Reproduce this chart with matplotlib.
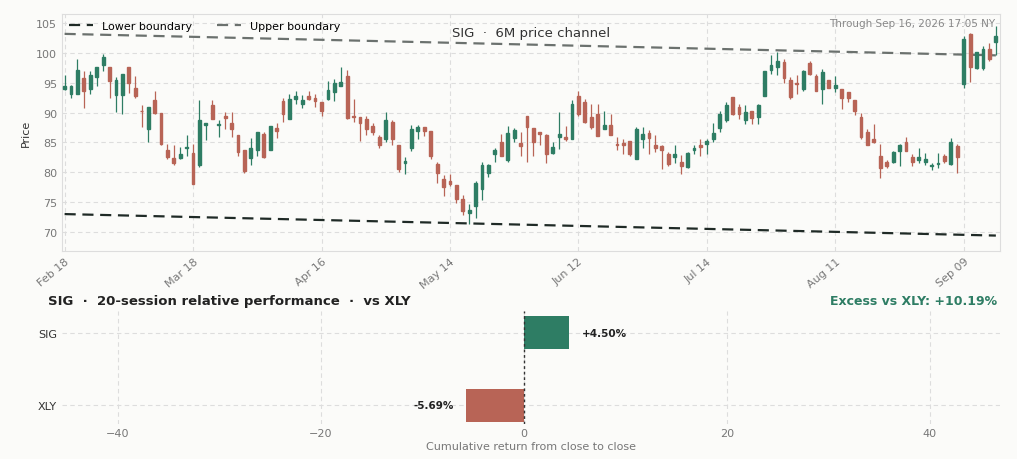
import matplotlib.pyplot as plt
from matplotlib.patches import Rectangle
import numpy as np

# OHLC, one row per session
ohlc = [
    (94.0, 96.3, 93.8, 94.5), (93.2, 94.6, 92.4, 94.4), (93.2, 99.0, 93.2, 97.2), (95.8, 96.9, 90.7, 93.6),
    (94.0, 97.0, 93.1, 96.3), (96.0, 97.7, 94.4, 97.6), (98.0, 99.8, 97.0, 99.4), (97.6, 97.6, 92.5, 95.3),
    (93.0, 96.0, 90.1, 95.5), (93.0, 96.5, 89.7, 96.5), (97.6, 97.7, 93.3, 94.9), (94.2, 96.2, 92.5, 92.8),
    (90.3, 91.3, 87.6, 90.2), (87.3, 91.0, 85.1, 91.0), (92.2, 93.7, 89.7, 89.9), (90.0, 90.0, 84.6, 84.8),
    (83.7, 84.8, 82.3, 82.6), (82.4, 84.5, 81.3, 81.5), (82.4, 84.2, 82.3, 83.1), (84.1, 86.2, 82.8, 84.3),
    (83.3, 84.8, 78.1, 78.1), (81.2, 92.1, 80.9, 88.8), (88.0, 88.3, 85.4, 88.3), (91.3, 92.1, 89.0, 89.0),
    (88.0, 88.7, 85.9, 88.1), (89.5, 90.1, 87.2, 89.1), (88.2, 90.1, 85.9, 87.2), (86.2, 86.2, 82.8, 83.4),
    (83.8, 83.8, 79.9, 80.3), (82.4, 85.8, 81.3, 84.0), (83.7, 86.8, 82.7, 86.8), (86.5, 86.7, 82.4, 82.6),
    (83.8, 87.7, 83.7, 87.7), (87.5, 88.2, 85.8, 86.9), (91.9, 92.5, 88.5, 89.7), (89.0, 93.2, 89.0, 92.3),
    (92.3, 93.7, 91.4, 92.8), (91.5, 93.0, 90.7, 92.2), (92.8, 93.6, 92.1, 92.3), (92.5, 93.2, 91.0, 91.9),
    (91.7, 91.8, 89.5, 90.3), (92.3, 95.3, 92.1, 93.8), (93.4, 95.6, 92.0, 94.9), (94.4, 97.7, 94.4, 95.1),
    (96.2, 97.2, 88.9, 89.1), (89.4, 92.3, 88.5, 89.2), (89.2, 89.2, 85.2, 88.2), (89.0, 89.5, 86.2, 87.3),
    (87.7, 88.2, 86.2, 86.8), (85.9, 86.2, 84.1, 84.6), (85.6, 90.1, 85.1, 88.7), (88.5, 88.7, 84.5, 85.6),
    (84.6, 84.6, 80.1, 80.6), (81.6, 82.6, 79.7, 81.9), (84.0, 88.0, 83.5, 87.2), (87.0, 87.9, 85.5, 87.6),
    (87.6, 87.6, 86.1, 86.9), (86.9, 86.9, 82.2, 82.7), (81.4, 81.8, 78.2, 79.9), (78.9, 79.5, 76.0, 77.5),
    (78.6, 79.7, 77.7, 78.1), (77.8, 77.8, 74.9, 75.6), (75.5, 76.2, 72.8, 73.6), (73.1, 74.7, 71.3, 73.7),
    (74.4, 78.6, 72.3, 78.2), (77.2, 81.8, 75.4, 81.2), (79.9, 81.4, 79.2, 81.3), (83.0, 84.0, 81.8, 83.7),
    (85.1, 86.5, 82.7, 82.7), (82.0, 87.7, 81.8, 86.6), (85.8, 87.4, 85.1, 87.1), (84.9, 86.8, 82.8, 84.4),
    (89.4, 89.4, 81.7, 87.6), (87.4, 87.4, 82.7, 85.0), (86.8, 86.8, 84.6, 86.4), (86.2, 86.5, 81.6, 83.0),
    (83.2, 85.1, 83.0, 84.3), (85.9, 90.1, 83.9, 86.5), (86.0, 87.8, 85.2, 85.5), (85.6, 92.1, 85.6, 91.4),
    (92.8, 93.6, 89.5, 89.7), (91.8, 92.3, 88.2, 88.5), (89.3, 91.4, 87.3, 87.6), (89.7, 91.5, 86.1, 86.1),
    (87.3, 90.3, 87.3, 87.9), (88.0, 89.7, 86.2, 86.2), (84.8, 85.9, 83.7, 84.5), (84.9, 85.6, 83.1, 84.6),
    (85.2, 85.2, 82.7, 83.1), (82.3, 87.6, 82.2, 87.3), (85.5, 87.6, 84.1, 86.5), (86.6, 87.1, 83.1, 85.8),
    (84.6, 86.3, 83.4, 84.1), (84.4, 84.5, 80.6, 83.7), (83.0, 83.4, 81.0, 81.4), (82.6, 84.5, 81.6, 83.1),
    (81.8, 82.9, 79.8, 81.0), (80.9, 83.4, 80.8, 83.2), (83.8, 84.5, 83.0, 84.1), (84.6, 85.6, 82.8, 84.2),
    (84.8, 85.6, 83.0, 85.2), (85.5, 88.3, 85.0, 86.6), (87.4, 90.2, 86.7, 89.8), (88.7, 91.7, 88.4, 91.3),
    (92.6, 92.6, 89.6, 89.8), (91.0, 91.5, 88.9, 89.8), (88.8, 91.3, 88.1, 90.1), (90.2, 90.2, 88.1, 89.1),
    (89.2, 91.5, 88.1, 91.3), (92.8, 97.0, 92.8, 97.0), (97.2, 99.7, 96.5, 97.9), (97.6, 100.2, 96.3, 98.7),
    (98.5, 99.0, 95.0, 95.8), (95.5, 95.9, 92.3, 92.6), (95.0, 96.3, 93.1, 94.8), (94.0, 97.2, 93.7, 97.0),
    (98.3, 98.7, 96.3, 96.5), (96.2, 96.5, 93.7, 93.7), (94.0, 97.3, 91.5, 96.8), (95.4, 95.4, 94.1, 94.2),
    (94.1, 96.2, 93.5, 94.6), (93.9, 93.9, 90.6, 92.4), (93.4, 93.5, 91.8, 92.4), (92.1, 92.1, 89.6, 90.3),
    (89.2, 89.9, 85.5, 85.9), (86.8, 87.2, 84.5, 84.6), (85.5, 88.1, 84.9, 85.1), (82.8, 84.7, 79.0, 80.8),
    (81.8, 82.0, 80.7, 81.1), (81.8, 83.6, 81.6, 83.4), (83.6, 84.7, 81.0, 84.6), (85.0, 86.0, 83.5, 83.6),
    (82.5, 83.1, 81.0, 81.8), (82.1, 84.0, 81.6, 82.5), (81.7, 83.2, 81.2, 82.2), (81.0, 81.6, 80.4, 81.2),
    (81.4, 83.2, 80.8, 81.6), (82.8, 83.1, 81.6, 81.9), (81.4, 85.7, 81.2, 85.1), (84.4, 84.8, 79.9, 82.5),
    (94.8, 102.9, 94.2, 102.3), (103.2, 103.4, 95.2, 97.6), (97.4, 100.2, 97.3, 100.1), (97.4, 101.1, 97.2, 100.6),
    (100.7, 101.7, 98.7, 99.0), (101.8, 104.6, 99.7, 102.8),
]
tick_pos = [0, 20, 40, 60, 80, 100, 120, 140]
tick_labels = ["Feb 18", "Mar 18", "Apr 16", "May 14", "Jun 12", "Jul 14", "Aug 11", "Sep 09"]
upper_ends = [103.2, 99.6]
lower_ends = [73.0, 69.4]

perf_names = ["SIG", "XLY"]
perf_values = [4.50, -5.69]
excess = 10.19

GREEN = "#2e7d64"
RED = "#b86456"
BG = "#fbfbf9"

fig = plt.figure(figsize=(10.17, 4.60), dpi=100, facecolor=BG)
ax1 = fig.add_axes([0.061, 0.452, 0.922, 0.515], facecolor=BG)
ax2 = fig.add_axes([0.061, 0.077, 0.922, 0.245], facecolor=BG)

n = len(ohlc)
for i, (o, h, l, c) in enumerate(ohlc):
    col = GREEN if c >= o else RED
    ax1.vlines(i, l, h, color=col, lw=0.9, zorder=3)
    lo, hi = min(o, c), max(o, c)
    ax1.add_patch(Rectangle((i - 0.22, lo), 0.44, max(hi - lo, 0.12), color=col, zorder=4))

xs = [0, n - 1]
ax1.plot(xs, lower_ends, ls=(0, (5, 3)), color="#1f2a26", lw=1.6, label="Lower boundary", zorder=2)
ax1.plot(xs, upper_ends, ls=(0, (5, 3)), color="#6b716e", lw=1.6, label="Upper boundary", zorder=2)

ax1.set_xlim(-0.4, n - 0.4)
ax1.set_ylim(66.8, 106.5)
ax1.set_yticks([70, 75, 80, 85, 90, 95, 100, 105])
ax1.set_xticks(tick_pos)
ax1.set_xticklabels(tick_labels, rotation=40, ha="right", rotation_mode="anchor")
ax1.tick_params(colors="#777777", labelsize=8, length=0)
ax1.set_ylabel("Price", fontsize=8, color="#333333")
ax1.grid(True, ls=(0, (4, 3)), color="#dddddd", lw=0.8)
for s in ax1.spines.values():
    s.set_color("#dddddd")
ax1.legend(loc="upper left", ncol=2, frameon=False, fontsize=8, handlelength=2.2,
           columnspacing=2.2, borderaxespad=0.2)
ax1.text(0.5, 0.95, "SIG  ·  6M price channel", transform=ax1.transAxes, ha="center",
         va="top", fontsize=9.5, color="#333333")
ax1.text(0.995, 0.985, "Through Sep 16, 2026 17:05 NY", transform=ax1.transAxes, ha="right",
         va="top", fontsize=7.5, color="#888888")

ypos = [1, 0]
cols = [GREEN if v >= 0 else RED for v in perf_values]
ax2.barh(ypos, perf_values, height=0.45, color=cols, zorder=3)
for y, v in zip(ypos, perf_values):
    ax2.text(v + (1.2 if v >= 0 else -1.2), y, f"{v:+.2f}%", ha="left" if v >= 0 else "right",
             va="center", fontsize=7.5, fontweight="bold", color="#222222")
ax2.axvline(0, color="#333333", ls=(0, (2, 2)), lw=1, zorder=4)
ax2.set_xlim(-45.5, 46.9)
ax2.set_ylim(-0.25, 1.3)
ax2.set_yticks(ypos)
ax2.set_yticklabels(perf_names)
ax2.set_xticks([-40, -20, 0, 20, 40])
ax2.set_xticklabels(["\u221240", "\u221220", "0", "20", "40"])
ax2.tick_params(labelsize=8, length=0, colors="#777777")
for lab in ax2.get_yticklabels():
    lab.set_color("#333333")
ax2.grid(True, ls=(0, (4, 3)), color="#dddddd", lw=0.8)
for s in ax2.spines.values():
    s.set_visible(False)
ax2.set_xlabel("Cumulative return from close to close", fontsize=8, color="#777777", labelpad=2)
fig.text(0.047, 0.345, "SIG  ·  20-session relative performance  ·  vs XLY", fontsize=9.5,
         fontweight="bold", color="#222222", va="center")
fig.text(0.98, 0.345, f"Excess vs XLY: +{excess:.2f}%", fontsize=9, fontweight="bold",
         color=GREEN, ha="right", va="center")

fig.savefig("out.png", dpi=100, facecolor=BG)
